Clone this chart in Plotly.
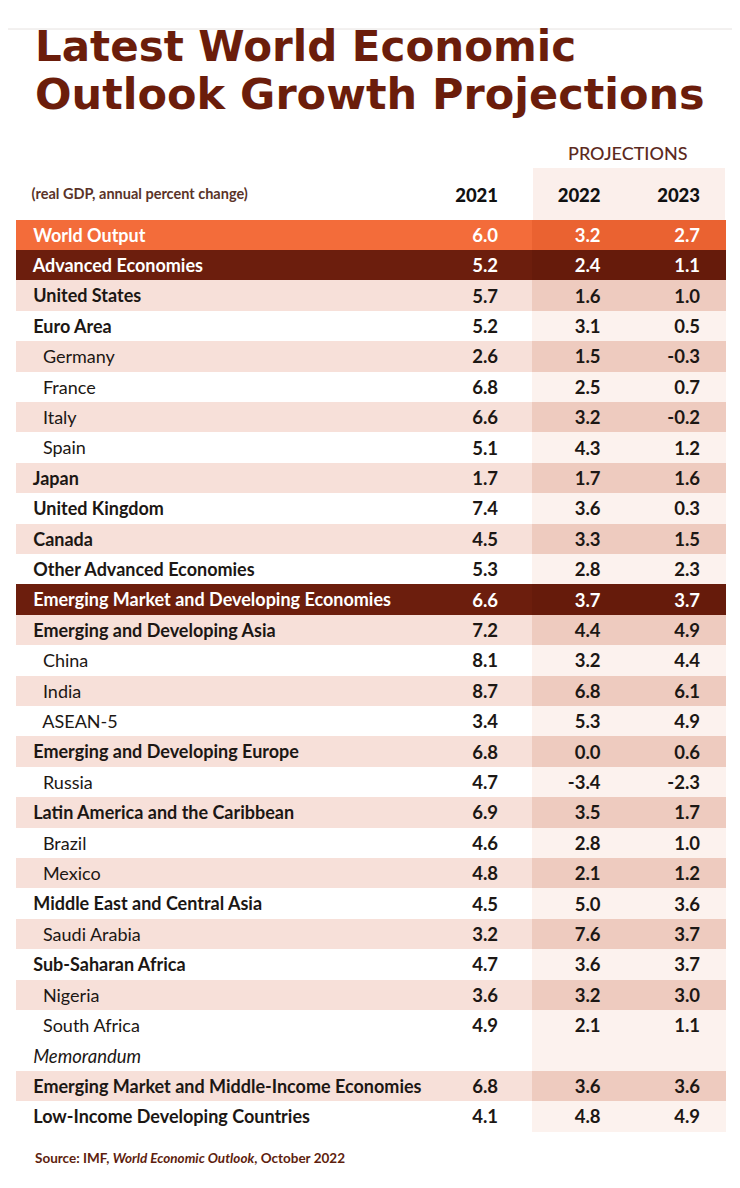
import plotly.graph_objects as go

# rows of the table, top to bottom
labels = ["World Output", "Advanced Economies", "United States", "Euro Area", "Germany",
          "France", "Italy", "Spain", "Japan", "United Kingdom", "Canada",
          "Other Advanced Economies", "Emerging Market and Developing Economies",
          "Emerging and Developing Asia", "China", "India", "ASEAN-5",
          "Emerging and Developing Europe", "Russia", "Latin America and the Caribbean",
          "Brazil", "Mexico", "Middle East and Central Asia", "Saudi Arabia",
          "Sub-Saharan Africa", "Nigeria", "South Africa", "Memorandum",
          "Emerging Market and Middle-Income Economies", "Low-Income Developing Countries"]
# 0 = headline, 1 = group, 2 = country (indented), 3 = memo heading
levels = [0, 0, 1, 1, 2, 2, 2, 2, 1, 1, 1, 1, 0, 1, 2, 2, 2, 1, 2, 1, 2, 2, 1, 2, 1, 2, 2, 3, 1, 1]
g2021 = [6.0, 5.2, 5.7, 5.2, 2.6, 6.8, 6.6, 5.1, 1.7, 7.4, 4.5, 5.3, 6.6, 7.2, 8.1, 8.7, 3.4,
         6.8, 4.7, 6.9, 4.6, 4.8, 4.5, 3.2, 4.7, 3.6, 4.9, None, 6.8, 4.1]
g2022 = [3.2, 2.4, 1.6, 3.1, 1.5, 2.5, 3.2, 4.3, 1.7, 3.6, 3.3, 2.8, 3.7, 4.4, 3.2, 6.8, 5.3,
         0.0, -3.4, 3.5, 2.8, 2.1, 5.0, 7.6, 3.6, 3.2, 2.1, None, 3.6, 4.8]
g2023 = [2.7, 1.1, 1.0, 0.5, -0.3, 0.7, -0.2, 1.2, 1.6, 0.3, 1.5, 2.3, 3.7, 4.9, 4.4, 6.1, 4.9,
         0.6, -2.3, 1.7, 1.0, 1.2, 3.6, 3.7, 3.7, 3.0, 1.1, None, 3.6, 4.9]
years = ["2021", "2022", "2023"]

ORANGE, ORANGE_P = "#f36c3a", "#ea6231"
BROWN, BROWN_P = "#6c1e0d", "#661b0b"
STRIPE, STRIPE_P = "#f7e0d9", "#eecbbf"
WHITE, WHITE_P = "#ffffff", "#fcf2ee"
TEXT = "#1c1714"
CLEAR = "rgba(0,0,0,0)"
NB = "\u00a0"
FONT = "Lato"
ROW_H = 30.4

# the page has an 8px body margin, so positions are given in picture pixels
def X(p):
    return (p - 8) / 740


def Y(p):
    return 1 - (p - 8) / 1188


fill_l, fill_p, txt_col = [], [], []
reg_lab, bold_lab, ital_lab = [], [], []
k = 0
for i, (lab, lv) in enumerate(zip(labels, levels)):
    if lv == 0:
        a, b = (ORANGE, ORANGE_P) if i == 0 else (BROWN, BROWN_P)
        txt_col.append("white")
        k = 0
    elif lv == 3:
        a, b = WHITE, WHITE_P
        txt_col.append(TEXT)
        k = 0
    else:
        a, b = (STRIPE, STRIPE_P) if k % 2 == 0 else (WHITE, WHITE_P)
        txt_col.append(TEXT)
        k += 1
    fill_l.append(a)
    fill_p.append(b)
    reg_lab.append(NB * 4 + lab if lv == 2 else "")
    bold_lab.append(NB * 2 + lab if lv in (0, 1) else "")
    ital_lab.append(NB * 2 + lab if lv == 3 else "")


def fmt(vals):
    return ["" if v is None else f"{v:.1f}" for v in vals]


blank = [""] * len(labels)
dom_x = [X(16.5), X(725.5)]
widths = [403.5, 88.5, 27, 76, 100, 17.5]
aligns = ["left", "right", "right", "right", "right", "right"]
HEAD_H = 52
HEAD_SHIFT = 12

# base table: fills, values and the plain country labels
base = go.Table(
    domain=dict(x=dom_x, y=[0, Y(168)]),
    columnwidth=widths,
    header=dict(values=[""] * 6, height=HEAD_H,
                fill=dict(color=["white"] * 3 + ["#fbefeb"] * 3), line=dict(width=0)),
    cells=dict(
        values=[reg_lab, fmt(g2021), blank, fmt(g2022), fmt(g2023), blank],
        height=ROW_H, align=aligns,
        fill=dict(color=[fill_l, fill_l, fill_l, fill_p, fill_p, fill_p]),
        line=dict(color=[fill_l, fill_l, fill_l, fill_p, fill_p, fill_p], width=1),
        font=dict(family=FONT, size=[18, 18.5, 18.5, 18.5, 18.5, 18.5], color=[txt_col] * 6,
                  weight=[400, 700, 700, 700, 700, 700]),
    ),
)

# overlay: bold labels, one wide column so long names stay on one line
bold = go.Table(
    domain=dict(x=dom_x, y=[0, Y(168)]),
    header=dict(values=[""], height=HEAD_H, fill=dict(color=CLEAR), line=dict(width=0)),
    cells=dict(
        values=[bold_lab], height=ROW_H, align="left",
        fill=dict(color=CLEAR), line=dict(width=0),
        font=dict(family=FONT, size=18, color=[txt_col], weight=700),
    ),
)

# overlay: column headings (set a little lower) and the italic memo heading
head = go.Table(
    domain=dict(x=dom_x, y=[0, Y(168 + HEAD_SHIFT)]),
    columnwidth=widths,
    header=dict(
        values=[NB * 2 + "(real GDP, annual percent change)", years[0], "", years[1], years[2], ""],
        height=HEAD_H - HEAD_SHIFT, align=aligns,
        fill=dict(color=CLEAR), line=dict(width=0),
        font=dict(family=FONT, size=[14.5, 18.5, 18.5, 18.5, 18.5, 18.5],
                  color=["#5a3328"] + ["#111111"] * 5,
                  weight=[700, 900, 900, 900, 900, 900]),
    ),
    cells=dict(
        values=[ital_lab, blank, blank, blank, blank, blank],
        height=ROW_H, align=aligns,
        fill=dict(color=CLEAR), line=dict(width=0),
        font=dict(family=FONT, size=18.5, color=TEXT, style="italic"),
    ),
)

fig = go.Figure([base, bold, head])

fig.add_annotation(text="Latest World Economic", x=X(33), y=Y(46),
                   xref="paper", yref="paper", xanchor="left", yanchor="middle",
                   showarrow=False,
                   font=dict(family="DejaVu Sans", size=42, color="#6b1d0b", weight=700))
fig.add_annotation(text="Outlook Growth Projections", x=X(33), y=Y(94),
                   xref="paper", yref="paper", xanchor="left", yanchor="middle",
                   showarrow=False,
                   font=dict(family="DejaVu Sans", size=43, color="#6b1d0b", weight=700))
fig.add_annotation(text="PROJECTIONS", x=X(628), y=Y(153),
                   xref="paper", yref="paper", xanchor="center", yanchor="middle",
                   showarrow=False,
                   font=dict(family=FONT, size=18, color="#5c2a1e", weight=500))
fig.add_annotation(text="Source: IMF, <i>World Economic Outlook</i>, October 2022",
                   x=X(33), y=Y(1158), xref="paper", yref="paper",
                   xanchor="left", yanchor="middle", showarrow=False,
                   font=dict(family=FONT, size=13.5, color="#5e1e0e", weight=700))

fig.add_shape(type="line", xref="paper", yref="paper", x0=X(0), x1=X(748),
              y0=Y(29), y1=Y(29), line=dict(color="#e6e2e0", width=1))

fig.update_layout(width=740, height=1188, margin=dict(l=0, r=0, t=0, b=0),
                  paper_bgcolor="white", plot_bgcolor="white", showlegend=False)
fig.write_html("out.html")
